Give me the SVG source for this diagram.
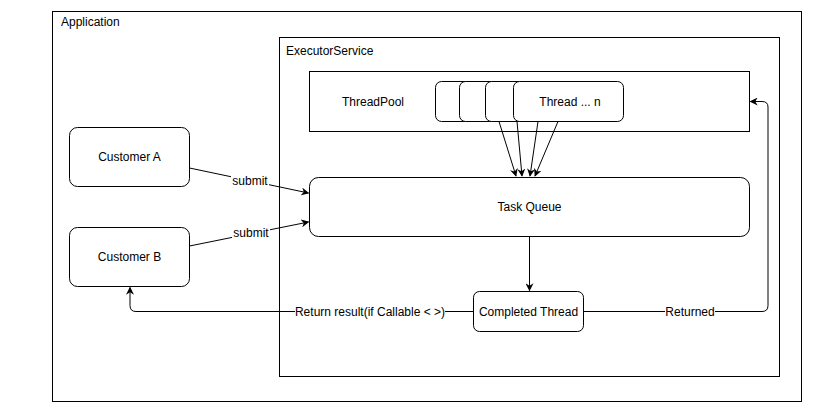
<svg xmlns="http://www.w3.org/2000/svg" width="836" height="418" viewBox="0 0 836 418">
<defs>
<marker id="arr" viewBox="0 0 10 10" refX="9" refY="5" markerWidth="8" markerHeight="8" markerUnits="userSpaceOnUse" orient="auto">
<path d="M0,0 L10,5 L0,10 L3,5 Z" fill="#000"/>
</marker>
</defs>
<style>
text{font-family:"Liberation Sans",Arial,sans-serif;font-size:12px;fill:#000}
.c{text-anchor:middle}
.box{fill:#fff;stroke:#000;stroke-width:1}
.ln{fill:none;stroke:#000;stroke-width:1}
.lbl{fill:#fff}
</style>
<rect width="836" height="418" fill="#fff"/>
<g id="application">
<rect class="box" x="52.5" y="11.5" width="749" height="390"/>
<text x="61" y="26">Application</text>
</g>
<g id="executorservice">
<rect class="box" x="279.5" y="37.5" width="500" height="339"/>
<text x="286" y="55">ExecutorService</text>
</g>
<g id="threadpool">
<rect class="box" x="309.5" y="71.5" width="440" height="60"/>
<text class="c" x="373" y="106">ThreadPool</text>
</g>
<g id="thread1"><rect class="box" x="435.5" y="81.5" width="110" height="40" rx="6"/></g>
<g id="thread2"><rect class="box" x="459.5" y="81.5" width="110" height="40" rx="6"/></g>
<g id="thread3"><rect class="box" x="485.5" y="81.5" width="110" height="40" rx="6"/></g>
<g id="threadn"><rect class="box" x="513.5" y="81.5" width="110" height="40" rx="6"/>
<text class="c" x="570" y="106">Thread ... n</text></g>
<g id="customerA">
<rect class="box" x="69.5" y="127.5" width="120" height="59" rx="8"/>
<text class="c" x="129.5" y="161">Customer A</text>
</g>
<g id="customerB">
<rect class="box" x="69.5" y="227.5" width="120" height="59" rx="8"/>
<text class="c" x="129.5" y="261">Customer B</text>
</g>
<g id="taskqueue">
<rect class="box" x="309.5" y="177.5" width="440" height="59" rx="9"/>
<text class="c" x="529.5" y="211">Task Queue</text>
</g>
<g id="completed">
<rect class="box" x="473.5" y="291.5" width="110" height="40" rx="6"/>
<text class="c" x="528.5" y="316">Completed Thread</text>
</g>
<g id="connectors">
<line class="ln" x1="499" y1="121.5" x2="516" y2="176" marker-end="url(#arr)"/>
<line class="ln" x1="517" y1="121.5" x2="522" y2="176" marker-end="url(#arr)"/>
<line class="ln" x1="538" y1="121.5" x2="530" y2="176" marker-end="url(#arr)"/>
<line class="ln" x1="558" y1="121.5" x2="535" y2="176" marker-end="url(#arr)"/>
<line class="ln" x1="189.5" y1="168" x2="308.5" y2="193" marker-end="url(#arr)"/>
<line class="ln" x1="189.5" y1="246" x2="308.5" y2="222" marker-end="url(#arr)"/>
<line class="ln" x1="529.5" y1="236.5" x2="529.5" y2="290.5" marker-end="url(#arr)"/>
<path class="ln" d="M473.5,311.5 H136 Q130,311.5 130,305.5 V287.5" marker-end="url(#arr)"/>
<path class="ln" d="M583.5,311.5 H762 Q768,311.5 768,305.5 V107 Q768,101.5 762,101.5 H750.5" marker-end="url(#arr)"/>
<rect class="lbl" x="231" y="174" width="38" height="13"/>
<text class="c" x="250" y="185">submit</text>
<rect class="lbl" x="232" y="226" width="38" height="13"/>
<text class="c" x="251" y="237">submit</text>
<rect class="lbl" x="295" y="305" width="150" height="13"/>
<text class="c" x="370" y="316">Return result(if Callable &lt; &gt;)</text>
<rect class="lbl" x="665" y="305" width="50" height="13"/>
<text class="c" x="690" y="316">Returned</text>
</g>
</svg>
